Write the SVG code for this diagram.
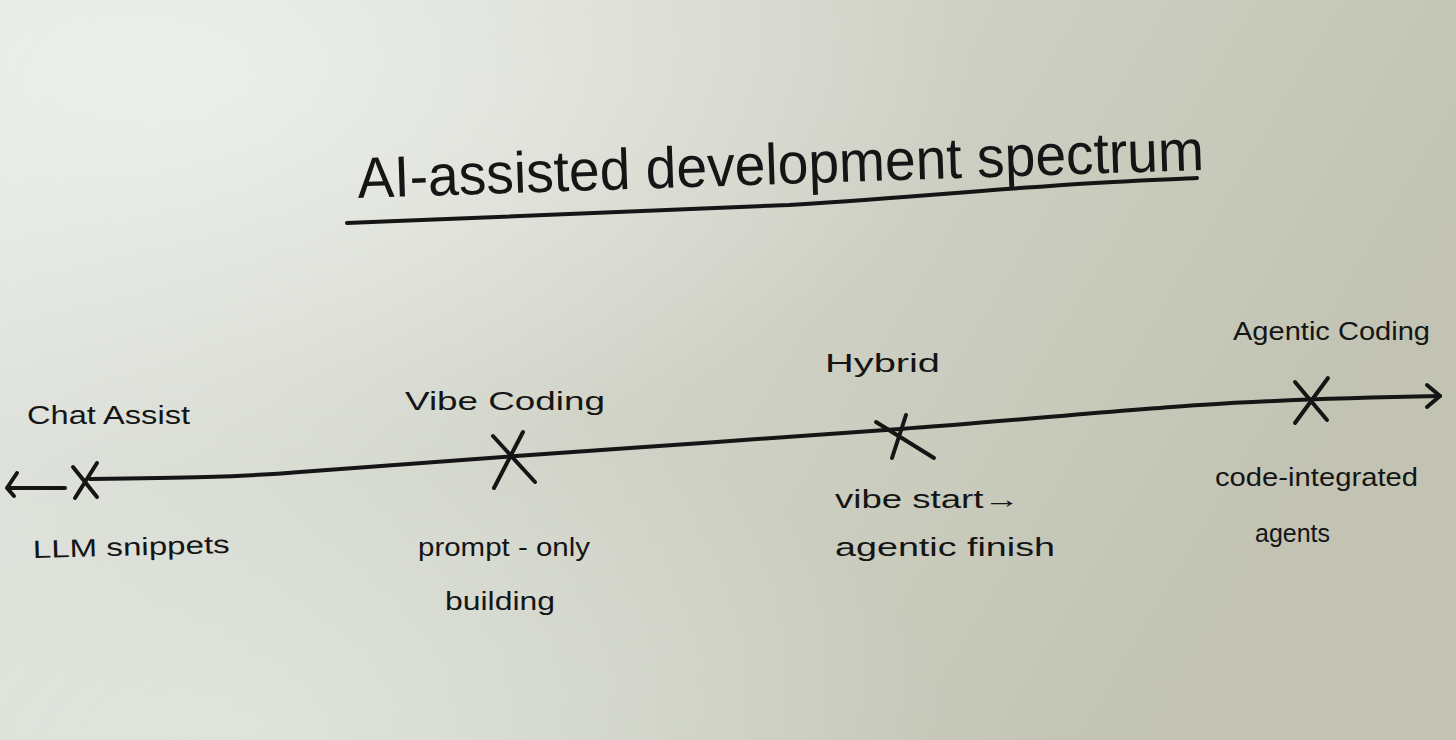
<svg xmlns="http://www.w3.org/2000/svg" width="1456" height="740" viewBox="0 0 1456 740">
  <defs>
    <linearGradient id="bg" x1="0" y1="0" x2="1" y2="0.3">
      <stop offset="0" stop-color="#e2e6e1"/>
      <stop offset="0.45" stop-color="#d3d6cb"/>
      <stop offset="1" stop-color="#c2c3b3"/>
    </linearGradient>
    <radialGradient id="glow" cx="0.12" cy="0.1" r="0.55">
      <stop offset="0" stop-color="#eef0ec" stop-opacity="0.9"/>
      <stop offset="1" stop-color="#eef0ec" stop-opacity="0"/>
    </radialGradient>
    <radialGradient id="glow2" cx="0.15" cy="1" r="0.5">
      <stop offset="0" stop-color="#e4e9e3" stop-opacity="0.7"/>
      <stop offset="1" stop-color="#e4e9e3" stop-opacity="0"/>
    </radialGradient>
  </defs>
  <style>
    .ink { fill: none; stroke: #151515; stroke-width: 4; stroke-linecap: round; stroke-linejoin: round; }
    .lbl { font-family: "Liberation Sans", Arial, sans-serif; fill: #151515; font-size: 25px; }
    .title { font-family: "Liberation Sans", Arial, sans-serif; fill: #151515; font-size: 58px; }
  </style>
  <rect width="1456" height="740" fill="url(#bg)"/>
  <rect width="1456" height="740" fill="url(#glow)"/>
  <rect width="1456" height="740" fill="url(#glow2)"/>

  <g id="title">
    <text class="title" x="358" y="198" transform="rotate(-1.9 358 198)" textLength="847" lengthAdjust="spacingAndGlyphs">AI-assisted development spectrum</text>
    <path class="ink" d="M347,223 C 520,216 700,210 789,205 C 900,198 1000,189 1050,186 C 1100,182 1160,180 1197,178"/>
  </g>

  <g id="connectors">
    <path class="ink" d="M90,479 C 180,478 240,477 300,472 C 420,464 520,455 630,448 C 720,442 780,437 900,429 C 1000,422 1120,410 1200,405 C 1260,401 1330,398 1440,396"/>
    <path class="ink" d="M1427,385 L1440,396 L1427,407"/>
    <path class="ink" d="M65,488 L7,488 M17,473 L7,488 L14,496"/>
  </g>

  <g id="node-chat-assist">
    <text class="lbl" x="27" y="424" textLength="163" lengthAdjust="spacingAndGlyphs">Chat Assist</text>
    <path class="ink" d="M97,463 L75,498 M73,467 L97,497"/>
    <text class="lbl" x="33" y="558" transform="rotate(-1.5 33 558)" textLength="197" lengthAdjust="spacingAndGlyphs">LLM snippets</text>
  </g>

  <g id="node-vibe-coding">
    <text class="lbl" x="405" y="410" font-size="30" textLength="200" lengthAdjust="spacingAndGlyphs">Vibe Coding</text>
    <path class="ink" d="M493,436 L535,482 M523,432 L494,488"/>
    <text class="lbl" x="418" y="556" textLength="172" lengthAdjust="spacingAndGlyphs">prompt - only</text>
    <text class="lbl" x="445" y="610" textLength="110" lengthAdjust="spacingAndGlyphs">building</text>
  </g>

  <g id="node-hybrid">
    <text class="lbl" x="825" y="372" font-size="32" textLength="115" lengthAdjust="spacingAndGlyphs">Hybrid</text>
    <path class="ink" d="M876,422 L934,458 M906,415 L892,458"/>
    <text class="lbl" x="835" y="508" textLength="185" lengthAdjust="spacingAndGlyphs">vibe start→</text>
    <text class="lbl" x="835" y="556" textLength="220" lengthAdjust="spacingAndGlyphs">agentic finish</text>
  </g>

  <g id="node-agentic-coding">
    <text class="lbl" x="1233" y="340" font-size="30" textLength="197" lengthAdjust="spacingAndGlyphs">Agentic Coding</text>
    <path class="ink" d="M1295,382 L1327,420 M1328,378 L1295,423"/>
    <text class="lbl" x="1215" y="486" textLength="203" lengthAdjust="spacingAndGlyphs">code-integrated</text>
    <text class="lbl" x="1255" y="542" textLength="75" lengthAdjust="spacingAndGlyphs">agents</text>
  </g>
</svg>
